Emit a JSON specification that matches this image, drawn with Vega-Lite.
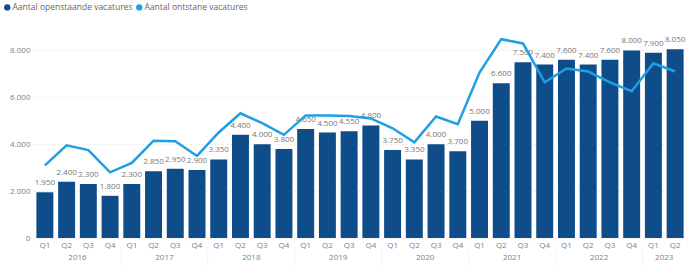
{
  "$schema": "https://vega.github.io/schema/vega-lite/v6.json",
  "width": 652,
  "height": 211,
  "autosize": {"type": "none"},
  "padding": {"left": 34, "top": 27, "right": 0, "bottom": 29},
  "background": "white",
  "config": {
    "locale": {"number": {"decimal": ",", "thousands": ".", "grouping": [3], "currency": ["€", ""]}},
    "font": "Open Sans",
    "view": {"stroke": null}
  },
  "datasets": {
    "main": [
      {"key": "2016-Q1", "open": 1950, "ontstaan": 3100},
      {"key": "2016-Q2", "open": 2400, "ontstaan": 3950},
      {"key": "2016-Q3", "open": 2300, "ontstaan": 3750},
      {"key": "2016-Q4", "open": 1800, "ontstaan": 2800},
      {"key": "2017-Q1", "open": 2300, "ontstaan": 3200},
      {"key": "2017-Q2", "open": 2850, "ontstaan": 4150},
      {"key": "2017-Q3", "open": 2950, "ontstaan": 4130},
      {"key": "2017-Q4", "open": 2900, "ontstaan": 3500},
      {"key": "2018-Q1", "open": 3350, "ontstaan": 4500},
      {"key": "2018-Q2", "open": 4400, "ontstaan": 5320},
      {"key": "2018-Q3", "open": 4000, "ontstaan": 4900},
      {"key": "2018-Q4", "open": 3800, "ontstaan": 4400},
      {"key": "2019-Q1", "open": 4650, "ontstaan": 5230},
      {"key": "2019-Q2", "open": 4500, "ontstaan": 5230},
      {"key": "2019-Q3", "open": 4550, "ontstaan": 5200},
      {"key": "2019-Q4", "open": 4800, "ontstaan": 5100},
      {"key": "2020-Q1", "open": 3750, "ontstaan": 4680},
      {"key": "2020-Q2", "open": 3350, "ontstaan": 4080},
      {"key": "2020-Q3", "open": 4000, "ontstaan": 5180},
      {"key": "2020-Q4", "open": 3700, "ontstaan": 4850},
      {"key": "2021-Q1", "open": 5000, "ontstaan": 7060},
      {"key": "2021-Q2", "open": 6600, "ontstaan": 8480},
      {"key": "2021-Q3", "open": 7500, "ontstaan": 8300},
      {"key": "2021-Q4", "open": 7400, "ontstaan": 6640},
      {"key": "2022-Q1", "open": 7600, "ontstaan": 7230},
      {"key": "2022-Q2", "open": 7400, "ontstaan": 7100},
      {"key": "2022-Q3", "open": 7600, "ontstaan": 6640},
      {"key": "2022-Q4", "open": 8000, "ontstaan": 6260},
      {"key": "2023-Q1", "open": 7900, "ontstaan": 7450},
      {"key": "2023-Q2", "open": 8050, "ontstaan": 7100}
    ],
    "years": [
      {"anchor": "2016-Q2", "year": "2016"},
      {"anchor": "2017-Q2", "year": "2017"},
      {"anchor": "2018-Q2", "year": "2018"},
      {"anchor": "2019-Q2", "year": "2019"},
      {"anchor": "2020-Q2", "year": "2020"},
      {"anchor": "2021-Q2", "year": "2021"},
      {"anchor": "2022-Q2", "year": "2022"},
      {"anchor": "2023-Q1", "year": "2023"}
    ],
    "seps": [
      {"anchor": "2016-Q4"},
      {"anchor": "2017-Q4"},
      {"anchor": "2018-Q4"},
      {"anchor": "2019-Q4"},
      {"anchor": "2020-Q4"},
      {"anchor": "2021-Q4"},
      {"anchor": "2022-Q4"}
    ]
  },
  "layer": [
    {
      "data": {"name": "main"},
      "mark": {"type": "bar"},
      "encoding": {
        "x": {
          "field": "key", "type": "nominal", "sort": null,
          "scale": {"paddingInner": 0.22, "paddingOuter": 0.11},
          "axis": {
            "title": null, "domain": false, "ticks": false, "labelAngle": 0,
            "labelExpr": "slice(datum.value, 5)", "labelFontSize": 8,
            "labelColor": "#808080", "labelPadding": 3
          }
        },
        "y": {
          "field": "open", "type": "quantitative",
          "scale": {"domain": [0, 9000], "nice": false},
          "axis": {
            "title": null, "domain": false, "ticks": false,
            "values": [0, 2000, 4000, 6000, 8000], "format": ",d",
            "labelFontSize": 8, "labelColor": "#808080", "labelPadding": 4,
            "grid": true, "gridColor": "#d8d8d8", "gridDash": [1, 3], "gridWidth": 1
          }
        },
        "color": {
          "datum": "Aantal openstaande vacatures",
          "type": "nominal",
          "scale": {
            "domain": ["Aantal openstaande vacatures", "Aantal ontstane vacatures"],
            "range": ["#0E4C8A", "#1E9FE3"]
          },
          "legend": {
            "title": null, "orient": "none", "legendX": -31, "legendY": -24,
            "direction": "horizontal", "symbolType": "circle", "symbolSize": 40,
            "labelFontSize": 8.5, "labelColor": "#666666", "columnPadding": 2,
            "labelOffset": 1, "symbolStrokeWidth": 0
          }
        }
      }
    },
    {
      "data": {"name": "main"},
      "mark": {"type": "text", "dy": -5, "baseline": "bottom", "fontSize": 8, "color": "#777777"},
      "encoding": {
        "x": {"field": "key", "type": "nominal", "sort": null},
        "y": {"field": "open", "type": "quantitative"},
        "text": {"field": "open", "type": "quantitative", "format": ",d"}
      }
    },
    {
      "data": {"name": "main"},
      "mark": {"type": "line", "strokeWidth": 2.5},
      "encoding": {
        "x": {"field": "key", "type": "nominal", "sort": null},
        "y": {"field": "ontstaan", "type": "quantitative"},
        "color": {"datum": "Aantal ontstane vacatures", "type": "nominal"}
      }
    },
    {
      "data": {"name": "years"},
      "mark": {"type": "text", "dy": 20, "baseline": "middle", "fontSize": 8, "color": "#808080"},
      "encoding": {
        "x": {"field": "anchor", "type": "nominal", "sort": null, "bandPosition": 1.14},
        "y": {"datum": 0, "type": "quantitative"},
        "text": {"field": "year", "type": "nominal"}
      }
    },
    {
      "data": {"name": "seps"},
      "mark": {"type": "rule", "color": "#dddddd", "strokeDash": [1, 2], "strokeWidth": 1},
      "encoding": {
        "x": {"field": "anchor", "type": "nominal", "sort": null, "bandPosition": 1.14},
        "y": {"datum": -400, "type": "quantitative"},
        "y2": {"datum": -1250}
      }
    }
  ]
}
